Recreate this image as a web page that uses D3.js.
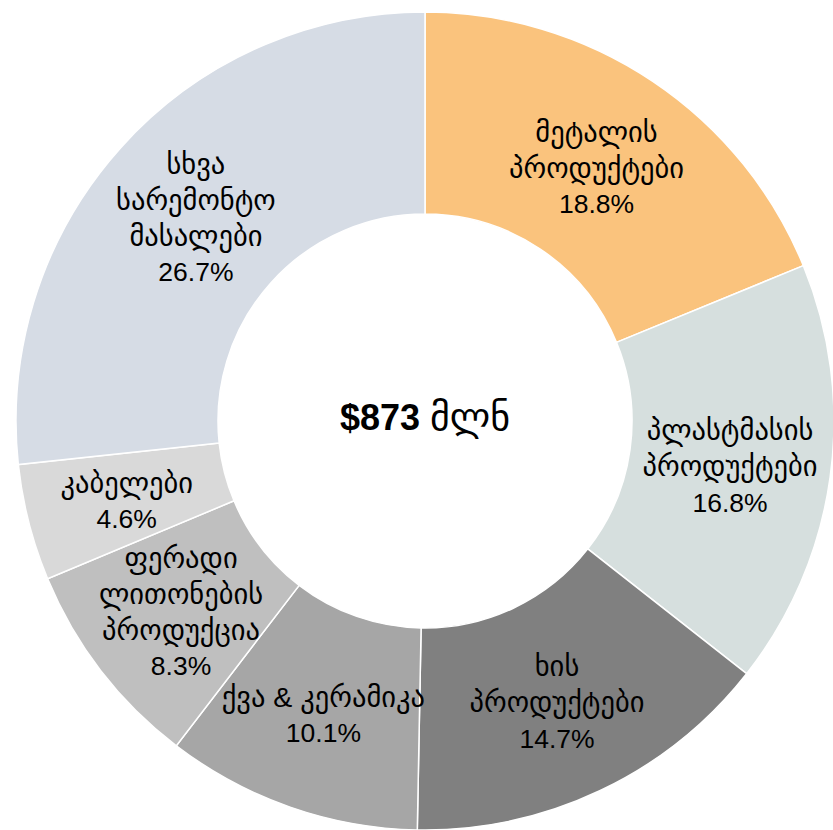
<!DOCTYPE html>
<html>
<head>
<meta charset="utf-8">
<script src="https://cdn.jsdelivr.net/npm/d3@7"></script>
<style>
  html, body { margin: 0; padding: 0; background: #fff; }
  svg text { font-family: "Liberation Sans", Arial, "DejaVu Sans", sans-serif; }
</style>
</head>
<body>
<div class="container"></div>
<script>
const categories = [
    ["მეტალის", "პროდუქტები"],
    ["პლასტმასის", "პროდუქტები"],
    ["ხის", "პროდუქტები"],
    ["ქვა & კერამიკა"],
    ["ფერადი", "ლითონების", "პროდუქცია"],
    ["კაბელები"],
    ["სხვა", "სარემონტო", "მასალები"]
];
const shares = [18.8, 16.8, 14.7, 10.1, 8.3, 4.6, 26.7];
const colors = ["#FAC37D", "#D6DFDE", "#808080", "#A6A6A6", "#BFBFBF", "#D9D9D9", "#D6DCE5"];
const totalLabel = ["$873", "მლნ"];

const w = 833, h = 830;
const cx = 425, cy = 421;
const outerR = 409, innerR = 207;
const lineH = 36;

// georgian glyphs come out small in the fallback font, so bump them a bit
const isGeo = t => /[\u10A0-\u10FF]/.test(t);

const svg = d3.select('.container')
    .append('svg')
    .attr('width', w)
    .attr('height', h);

const data = shares.map((v, i) => ({v, lines: categories[i], color: colors[i]}));

const pie = d3.pie().sort(null).value(d => d.v);
const arc = d3.arc().innerRadius(innerR).outerRadius(outerR);

const g = svg.append('g').attr('transform', `translate(${cx},${cy})`);

const arcs = pie(data);

g.selectAll('path')
    .data(arcs)
    .enter()
    .append('path')
    .attr('d', arc)
    .style('fill', d => d.data.color)
    .style('stroke', '#fff')
    .style('stroke-width', 1.5);

// slice labels, centred on each centroid
g.selectAll('text.lbl')
    .data(arcs)
    .enter()
    .append('text')
    .attr('class', 'lbl')
    .attr('text-anchor', 'middle')
    .style('fill', '#000')
    .each(function (d) {
        const [x, y] = arc.centroid(d);
        const lines = d.data.lines.concat([d3.format(".1f")(d.data.v) + "%"]);
        const top = y - (lines.length - 1) * lineH / 2 + 3;
        d3.select(this).selectAll('tspan')
            .data(lines)
            .enter()
            .append('tspan')
            .attr('x', x)
            .attr('y', (t, i) => top + i * lineH)
            .attr('dy', '0.35em')
            .style('font-size', t => isGeo(t) ? '28.5px' : '26.5px')
            .text(t => t);
    });

// total in the middle
const total = g.append('text')
    .attr('text-anchor', 'middle')
    .attr('y', 3)
    .attr('dy', '0.35em')
    .style('fill', '#000');
total.append('tspan').style('font-weight', 'bold').style('font-size', '36px').text(totalLabel[0] + " ");
total.append('tspan').style('font-size', '38px').text(totalLabel[1]);
</script>
</body>
</html>
